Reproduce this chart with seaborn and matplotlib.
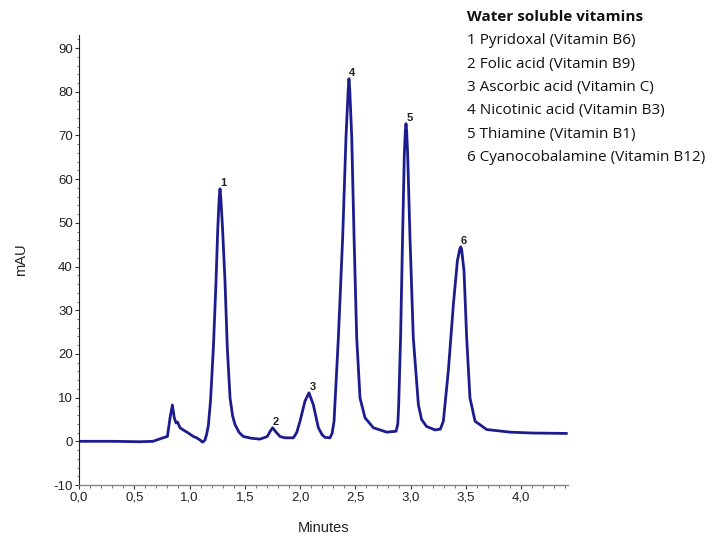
import matplotlib
matplotlib.use("Agg")
import matplotlib.pyplot as plt
import matplotlib.ticker as mticker
import seaborn as sns
import pandas as pd

# ---- data ----
time_min = [0.0, 0.3, 0.55, 0.67, 0.76, 0.80, 0.824, 0.845, 0.862, 0.878, 0.892, 0.914, 0.95,
            0.989, 1.035, 1.064, 1.095, 1.118, 1.14, 1.154, 1.17, 1.19, 1.216, 1.24, 1.255,
            1.268, 1.276, 1.284, 1.30, 1.321, 1.342, 1.367, 1.39, 1.412, 1.45, 1.487, 1.56,
            1.638, 1.704, 1.73, 1.752, 1.78, 1.819, 1.864, 1.94, 1.97, 2.0, 2.045, 2.081,
            2.12, 2.166, 2.2, 2.226, 2.271, 2.29, 2.308, 2.347, 2.386, 2.416, 2.436, 2.443,
            2.450, 2.468, 2.489, 2.513, 2.543, 2.588, 2.664, 2.785, 2.869, 2.885, 2.893,
            2.91, 2.928, 2.944, 2.953, 2.959, 2.965, 2.974, 2.995, 3.025, 3.071, 3.1, 3.145,
            3.222, 3.27, 3.297, 3.342, 3.388, 3.424, 3.446, 3.454, 3.462, 3.484, 3.508,
            3.538, 3.584, 3.689, 3.9, 4.1, 4.413]
absorbance_mau = [0.0, 0.0, -0.1, 0.0, 0.8, 1.1, 5.4, 8.3, 5.4, 4.2, 4.4, 3.1, 2.5,
                  1.9, 1.1, 0.8, 0.3, -0.2, 0.3, 1.5, 3.5, 9.2, 21.4, 36.7, 48.2,
                  55.5, 57.8, 55.5, 48.2, 36.7, 21.4, 9.9, 5.8, 3.8, 2.0, 1.1, 0.7,
                  0.5, 1.1, 2.3, 3.1, 2.2, 1.1, 0.8, 0.8, 2.0, 4.6, 9.2, 11.1,
                  8.4, 3.1, 1.5, 0.9, 0.8, 1.8, 4.6, 23.7, 46.7, 69.6, 80.5, 83.0,
                  80.5, 69.6, 46.7, 23.7, 9.9, 5.4, 3.1, 2.1, 2.3, 4.0, 8.4,
                  23.7, 46.7, 65.8, 71.0, 72.7, 71.0, 65.8, 46.7, 23.7, 8.4, 5.0, 3.4,
                  2.6, 2.8, 4.6, 16.1, 31.4, 41.3, 44.0, 44.5, 44.0, 39.0, 23.7,
                  9.9, 4.6, 2.7, 2.1, 1.9, 1.8]

peak_ids = ["1", "2", "3", "4", "5", "6"]
peak_times = [1.276, 1.752, 2.081, 2.443, 2.959, 3.454]
peak_heights = [57.8, 3.1, 11.1, 83.0, 72.7, 44.5]

legend_title = "Water soluble vitamins"
legend_items = ["1 Pyridoxal (Vitamin B6)", "2 Folic acid (Vitamin B9)",
                "3 Ascorbic acid (Vitamin C)", "4 Nicotinic acid (Vitamin B3)",
                "5 Thiamine (Vitamin B1)", "6 Cyanocobalamine (Vitamin B12)"]

x_ticks = [0.0, 0.5, 1.0, 1.5, 2.0, 2.5, 3.0, 3.5, 4.0]
y_ticks = [-10, 0, 10, 20, 30, 40, 50, 60, 70, 80, 90]

# ---- plotting ----
sns.set_style("ticks")
plt.rcParams["font.family"] = ["Liberation Sans", "DejaVu Sans"]

df = pd.DataFrame({"Minutes": time_min, "mAU": absorbance_mau})

fig = plt.figure(figsize=(7.21, 5.38), dpi=100)
ax = fig.add_axes([79 / 721, 1 - 485 / 538, (568 - 79) / 721, (485 - 35) / 538])

sns.lineplot(data=df, x="Minutes", y="mAU", ax=ax, color="#1c1c8e", linewidth=2.0,
             estimator=None, sort=False)

ax.set_xlim(0, 4.425)
ax.set_ylim(-10, 93)

ax.set_xticks(x_ticks)
ax.set_xticklabels([f"{t:.1f}".replace(".", ",") for t in x_ticks])
ax.set_yticks(y_ticks)
ax.set_yticklabels([str(v) for v in y_ticks])
ax.xaxis.set_minor_locator(mticker.MultipleLocator(0.1))
ax.yaxis.set_minor_locator(mticker.MultipleLocator(2))

ax.tick_params(axis="both", which="major", labelsize=9.5, length=3, width=0.8,
               colors="#333333", labelcolor="#222222", pad=1.5)
ax.tick_params(axis="both", which="minor", length=1.8, width=0.6, colors="#555555")

for s in ["top", "right"]:
    ax.spines[s].set_visible(False)
ax.spines["left"].set_color("#222222")
ax.spines["left"].set_linewidth(0.8)
ax.spines["bottom"].set_color("#888888")
ax.spines["bottom"].set_linewidth(1.0)

ax.set_xlabel("Minutes", fontsize=10.5, color="#222222", labelpad=12.5)
ax.set_ylabel("mAU", fontsize=10.5, color="#222222", labelpad=18)

for pid, pt, ph in zip(peak_ids, peak_times, peak_heights):
    ax.annotate(pid, xy=(pt, ph), xytext=(2.5, 0.5), textcoords="offset points",
                ha="center", va="bottom", fontsize=8, fontweight="bold", color="#222222")

fx = 467 / 721
fig.text(fx, 1 - 17 / 538, legend_title, fontsize=11, fontweight="bold",
         family=["Open Sans", "DejaVu Sans"], va="center", ha="left", color="#111111")
for i, item in enumerate(legend_items):
    fig.text(fx, 1 - (41 + i * 23.3) / 538, item, fontsize=11,
             family=["Open Sans", "DejaVu Sans"], va="center", ha="left", color="#111111")

fig.savefig("out.png", dpi=100)
